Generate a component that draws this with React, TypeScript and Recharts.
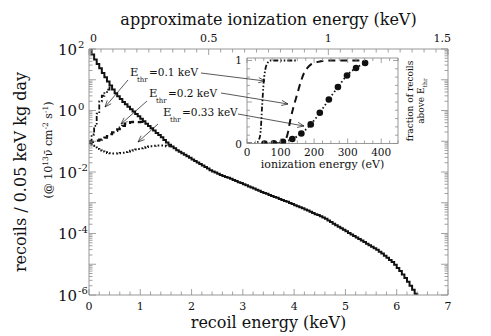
import React from 'react';
import { LineChart, Line, XAxis, YAxis } from 'recharts';

const SERIF = '"DejaVu Serif", serif';
const INK = '#111';
const FRAME = '#8c8c8c';

// recoil spectrum, 0.05 keV bins starting at 0 keV, log10(recoils / 0.05 keV kg day)
const BIN_KEV = 0.05;
const RATE_ALL_LOG10 = [
  2.05, 1.82, 1.66, 1.51, 1.37, 1.22, 1.08, 0.94, 0.81, 0.68,
  0.56, 0.46, 0.37, 0.28, 0.2, 0.12, 0.04, -0.03, -0.11, -0.19,
  -0.27, -0.35, -0.43, -0.5, -0.58, -0.65, -0.73, -0.8, -0.87, -0.96,
  -1.04, -1.11, -1.17, -1.23, -1.29, -1.34, -1.39, -1.44, -1.49, -1.54,
  -1.59, -1.64, -1.69, -1.74, -1.79, -1.84, -1.89, -1.94, -1.98, -2.02,
  -2.06, -2.1, -2.13, -2.16, -2.19, -2.22, -2.26, -2.29, -2.33, -2.36,
  -2.4, -2.43, -2.47, -2.5, -2.54, -2.58, -2.61, -2.65, -2.68, -2.71,
  -2.75, -2.78, -2.81, -2.84, -2.88, -2.91, -2.94, -2.97, -3.01, -3.04,
  -3.08, -3.11, -3.15, -3.18, -3.22, -3.25, -3.29, -3.33, -3.37, -3.4,
  -3.44, -3.48, -3.52, -3.58, -3.63, -3.68, -3.73, -3.78, -3.83, -3.88,
  -3.93, -3.98, -4.03, -4.08, -4.13, -4.18, -4.23, -4.28, -4.33, -4.38,
  -4.43, -4.48, -4.53, -4.59, -4.65, -4.72, -4.79, -4.86, -4.93, -5.02,
  -5.12, -5.22, -5.33, -5.45, -5.57, -5.7, -5.83, -5.96,
];
// same spectrum above each threshold, until it joins the full one
const RATE_THR_010_LOG10 = [-1.0, -0.78, -0.5, -0.1, 0.3, 0.48, 0.6, 0.68, 0.81];
const RATE_THR_020_LOG10 = [
  -1.05, -1.02, -1.0, -0.98, -0.95, -0.92, -0.88, -0.83, -0.77, -0.71,
  -0.66, -0.61, -0.56, -0.5, -0.44, -0.4, -0.38, -0.37, -0.37, -0.38,
  -0.37, -0.37, -0.43,
];
const RATE_THR_033_LOG10 = [
  -1.05, -1.15, -1.2, -1.25, -1.3, -1.33, -1.36, -1.38, -1.39, -1.4,
  -1.4, -1.39, -1.38, -1.37, -1.35, -1.33, -1.31, -1.29, -1.27, -1.25,
  -1.23, -1.21, -1.19, -1.17, -1.16, -1.15, -1.14, -1.14, -1.14, -1.15,
  -1.16, -1.16, -1.17,
];
const SPECTRUM_FLOOR = 1e-7; // below the axis: the histogram drops to zero

// inset: fraction of recoils above E_thr vs ionization energy (eV)
const ION_010_EV = [0, 20, 30, 35, 40, 45, 50, 55, 60, 65, 70, 90, 110, 130, 150];
const FRAC_010 = [0, 0, 0.01, 0.04, 0.12, 0.45, 0.75, 0.9, 0.96, 0.99, 1, 1, 1, 1, 1];
const ION_020_EV = [90, 100, 110, 120, 130, 140, 150, 160, 170, 180, 190, 200, 220, 240, 280, 350];
const FRAC_020 = [0, 0.005, 0.02, 0.1, 0.3, 0.46, 0.6, 0.74, 0.85, 0.91, 0.95, 0.97, 0.99, 1, 1, 1];
const ION_033_EV = [52, 80, 107, 135, 162, 190, 217, 244, 271, 298, 325, 352];
const FRAC_033 = [0, 0.003, 0.02, 0.055, 0.12, 0.23, 0.37, 0.53, 0.68, 0.82, 0.91, 0.97];

// axis ticks
const KEV_TICKS = Array.from({ length: 36 }, (_, i) => +(i * 0.2).toFixed(1));
const ION_KEV_TICKS = Array.from({ length: 31 }, (_, i) => +(i * 0.05).toFixed(2));
const LOG_TICKS: number[] = [];
for (let e = -6; e < 2; e++) for (let k = 1; k < 10; k++) LOG_TICKS.push(k * 10 ** e);
LOG_TICKS.push(100);
const INSET_EV_TICKS = Array.from({ length: 19 }, (_, i) => i * 25);
const INSET_FRAC_TICKS = Array.from({ length: 11 }, (_, i) => +(i * 0.1).toFixed(1));

const toBins = (logs: number[]) =>
  logs.map((v, i) => ({ x: +(i * BIN_KEV).toFixed(2), y: 10 ** v }));
const allData = [
  ...toBins(RATE_ALL_LOG10),
  { x: +(RATE_ALL_LOG10.length * BIN_KEV).toFixed(2), y: SPECTRUM_FLOOR },
];
const thr010Data = toBins(RATE_THR_010_LOG10);
const thr020Data = toBins(RATE_THR_020_LOG10);
const thr033Data = toBins(RATE_THR_033_LOG10);
const pairs = (xs: number[], ys: number[]) => xs.map((ev, i) => ({ ev, f: ys[i] }));
const inset010 = pairs(ION_010_EV, FRAC_010);
const inset020 = pairs(ION_020_EV, FRAC_020);
const inset033 = pairs(ION_033_EV, FRAC_033);

const near = (a: number, b: number) => Math.abs(a - b) < 1e-6;
const log10Of = (v: number) => Math.log10(v);
const isDecade = (v: number) => near(log10Of(v), Math.round(log10Of(v)));

const LeftLogTick = ({ x, y, payload }: any) => {
  const v = payload.value;
  const dec = isDecade(v);
  const e = Math.round(log10Of(v));
  return (
    <g>
      <line x1={x} y1={y} x2={x + (dec ? 7 : 3.5)} y2={y} stroke={FRAME} strokeWidth={0.8} />
      {dec && e % 2 === 0 && (
        <>
          <text x={x - 12} y={y + 5.5} textAnchor="end" fontSize={15} fontFamily={SERIF} fill={INK}>10</text>
          <text x={x - 11} y={y - 1} fontSize={10} fontFamily={SERIF} fill={INK}>{e}</text>
        </>
      )}
    </g>
  );
};

const RightLogTick = ({ x, y, payload }: any) => {
  const dec = isDecade(payload.value);
  return <line x1={x} y1={y} x2={x - (dec ? 7 : 3.5)} y2={y} stroke={FRAME} strokeWidth={0.8} />;
};

const BottomKevTick = ({ x, y, payload }: any) => {
  const v = payload.value;
  const major = near(v, Math.round(v));
  return (
    <g>
      <line x1={x} y1={y} x2={x} y2={y - (major ? 6 : 3.5)} stroke={FRAME} strokeWidth={0.8} />
      {major && (
        <text x={x} y={y + 15} textAnchor="middle" fontSize={11} fontFamily={SERIF} fill={INK}>{v}</text>
      )}
    </g>
  );
};

const TopIonTick = ({ x, y, payload }: any) => {
  const v = payload.value;
  const major = near(v * 2, Math.round(v * 2));
  // end labels sit just inside the frame
  const anchor = v === 0 ? 'start' : near(v, 1.5) ? 'end' : 'middle';
  const tx = v === 0 ? x + 1 : near(v, 1.5) ? x + 3 : x;
  return (
    <g>
      <line x1={x} y1={y} x2={x} y2={y + (major ? 6 : 3.5)} stroke={FRAME} strokeWidth={0.8} />
      {major && (
        <text x={tx} y={y - 7} textAnchor={anchor} fontSize={11} fontFamily={SERIF} fill={INK}>{v}</text>
      )}
    </g>
  );
};

const InsetBottomTick = ({ x, y, payload }: any) => {
  const v = payload.value;
  const major = v % 100 === 0;
  return (
    <g>
      <line x1={x} y1={y} x2={x} y2={y - (major ? 5 : 3)} stroke={FRAME} strokeWidth={0.8} />
      {major && (
        <text x={x} y={y + 12} textAnchor="middle" fontSize={10.5} fontFamily={SERIF} fill={INK}>{v}</text>
      )}
    </g>
  );
};

const InsetTopTick = ({ x, y, payload }: any) => (
  <line x1={x} y1={y} x2={x} y2={y + (payload.value % 100 === 0 ? 5 : 3)} stroke={FRAME} strokeWidth={0.8} />
);

const InsetLeftTick = ({ x, y, payload }: any) => {
  const v = payload.value;
  const major = v === 0 || v === 1;
  return (
    <g>
      <line x1={x} y1={y} x2={x + (major || near(v, 0.5) ? 5 : 3)} y2={y} stroke={FRAME} strokeWidth={0.8} />
      {major && (
        <text x={x - 5} y={y + 4} textAnchor="end" fontSize={10.5} fontFamily={SERIF} fill={INK}>{v}</text>
      )}
    </g>
  );
};

const InsetRightTick = ({ x, y, payload }: any) => (
  <line x1={x} y1={y} x2={x - (payload.value === 0 || payload.value === 1 ? 5 : 3)} y2={y} stroke={FRAME} strokeWidth={0.8} />
);

function Pointer({ from, to }: { from: [number, number]; to: [number, number] }) {
  const [x1, y1] = from;
  const [x2, y2] = to;
  const a = Math.atan2(y2 - y1, x2 - x1);
  const len = 7;
  const w = 0.38;
  const h1 = `${x2 - len * Math.cos(a - w)},${y2 - len * Math.sin(a - w)}`;
  const h2 = `${x2 - len * Math.cos(a + w)},${y2 - len * Math.sin(a + w)}`;
  return (
    <g stroke={INK} strokeWidth={0.7} fill="none">
      <line x1={x1} y1={y1} x2={x2} y2={y2} />
      <polyline points={`${h1} ${x2},${y2} ${h2}`} />
    </g>
  );
}

// label placement for the three thresholds (page pixels)
const THR_LABELS = [
  { text: '=0.1 keV', ex: 130, ey: 76, toMain: [[128, 80], [105, 107]], toInset: [[201, 73], [265, 81]] },
  { text: '=0.2 keV', ex: 149, ey: 97, toMain: [[147, 101], [121, 124]], toInset: [[221, 93], [288, 104]] },
  { text: '=0.33 keV', ex: 163, ey: 116, toMain: [[158, 124], [138, 142]], toInset: [[238, 114], [304, 126]] },
];

const axisCommon = {
  tickSize: 0,
  tickMargin: 0,
  tickLine: false,
  interval: 0 as const,
  allowDataOverflow: true,
  axisLine: { stroke: FRAME, strokeWidth: 0.9 },
};

export default function App() {
  return (
    <div style={{ position: 'absolute', left: 0, top: 0, width: 491, height: 336, background: '#fff' }}>
      <LineChart width={491} height={336} margin={{ top: 48, right: 42, bottom: 40, left: 88 }}>
        <XAxis xAxisId="kev" dataKey="x" type="number" domain={[0, 7]} ticks={KEV_TICKS} height={1}
          tick={(p: any) => <BottomKevTick {...p} />} {...axisCommon} />
        <XAxis xAxisId="ion" dataKey="x" orientation="top" type="number" domain={[0, 1.5]} ticks={ION_KEV_TICKS} height={1}
          tick={(p: any) => <TopIonTick {...p} />} {...axisCommon} />
        <YAxis yAxisId="rate" type="number" scale="log" domain={[1e-6, 100]} ticks={LOG_TICKS} width={1}
          tick={(p: any) => <LeftLogTick {...p} />} {...axisCommon} />
        <YAxis yAxisId="rate2" orientation="right" type="number" scale="log" domain={[1e-6, 100]} ticks={LOG_TICKS} width={1}
          tick={(p: any) => <RightLogTick {...p} />} {...axisCommon} />
        {/* invisible series so the mirrored top/right axes get drawn */}
        <Line xAxisId="ion" yAxisId="rate2" data={allData} dataKey="y" stroke="none" dot={false}
          activeDot={false} isAnimationActive={false} />
        <Line xAxisId="kev" yAxisId="rate" data={thr033Data} dataKey="y" type="stepAfter" stroke={INK}
          strokeWidth={2} strokeDasharray="1.6 2.2" dot={false} isAnimationActive={false} />
        <Line xAxisId="kev" yAxisId="rate" data={thr020Data} dataKey="y" type="stepAfter" stroke={INK}
          strokeWidth={2.2} strokeDasharray="6 4" dot={false} isAnimationActive={false} />
        <Line xAxisId="kev" yAxisId="rate" data={thr010Data} dataKey="y" type="stepAfter" stroke={INK}
          strokeWidth={1.8} strokeDasharray="5 2 1.5 2 1.5 2" dot={false} isAnimationActive={false} />
        <Line xAxisId="kev" yAxisId="rate" data={allData} dataKey="y" type="stepAfter" stroke={INK}
          strokeWidth={2} dot={false} isAnimationActive={false} />
      </LineChart>

      <div style={{ position: 'absolute', left: 200, top: 40 }}>
        <LineChart width={240} height={130} margin={{ top: 17, right: 41, bottom: 25.5, left: 46 }}>
          <XAxis xAxisId="ev" dataKey="ev" type="number" domain={[0, 450]} ticks={INSET_EV_TICKS} height={1}
            tick={(p: any) => <InsetBottomTick {...p} />} {...axisCommon} />
          <XAxis xAxisId="ev2" dataKey="ev" orientation="top" type="number" domain={[0, 450]} ticks={INSET_EV_TICKS} height={1}
            tick={(p: any) => <InsetTopTick {...p} />} {...axisCommon} />
          <YAxis yAxisId="f" type="number" domain={[0, 1.03]} ticks={INSET_FRAC_TICKS} width={1}
            tick={(p: any) => <InsetLeftTick {...p} />} {...axisCommon} />
          <YAxis yAxisId="f2" orientation="right" type="number" domain={[0, 1.03]} ticks={INSET_FRAC_TICKS} width={1}
            tick={(p: any) => <InsetRightTick {...p} />} {...axisCommon} />
          <Line xAxisId="ev2" yAxisId="f2" data={inset033} dataKey="f" stroke="none" dot={false}
            activeDot={false} isAnimationActive={false} />
          <Line xAxisId="ev" yAxisId="f" data={inset010} dataKey="f" type="monotone" stroke={INK}
            strokeWidth={1.8} strokeDasharray="5 2 1.5 2 1.5 2" dot={false} isAnimationActive={false} />
          <Line xAxisId="ev" yAxisId="f" data={inset020} dataKey="f" type="monotone" stroke={INK}
            strokeWidth={2} strokeDasharray="7 5" dot={false} isAnimationActive={false} />
          <Line xAxisId="ev" yAxisId="f" data={inset033} dataKey="f" type="monotone" stroke={INK}
            strokeWidth={1.8} strokeDasharray="1.5 2.5"
            dot={{ r: 3.3, fill: INK, stroke: 'none' }} isAnimationActive={false} />
        </LineChart>
      </div>

      <svg width={491} height={336} style={{ position: 'absolute', left: 0, top: 0, pointerEvents: 'none' }}
        fontFamily={SERIF} fill={INK}>
        <text x={268.5} y={25} textAnchor="middle" fontSize={16}>approximate ionization energy (keV)</text>
        <text x={268.5} y={328} textAnchor="middle" fontSize={16}>recoil energy (keV)</text>
        <text transform="translate(26,172) rotate(-90)" textAnchor="middle" fontSize={16}>
          recoils / 0.05 keV kg day
        </text>
        <text transform="translate(52,150) rotate(-90)" textAnchor="middle" fontSize={11}>
          (@ 10<tspan dy={-4} fontSize={7.5}>13</tspan><tspan dy={4}>ν̄ cm</tspan>
          <tspan dy={-4} fontSize={7.5}>-2</tspan><tspan dy={4}> s</tspan>
          <tspan dy={-4} fontSize={7.5}>-1</tspan><tspan dy={4}>)</tspan>
        </text>

        <text x={322.5} y={168} textAnchor="middle" fontSize={11}>ionization energy (eV)</text>
        <text transform="translate(413,101) rotate(-90)" textAnchor="middle" fontSize={9}>fraction of recoils</text>
        <text transform="translate(424,101) rotate(-90)" textAnchor="middle" fontSize={9}>
          above E<tspan dy={3} fontSize={6}>thr</tspan>
        </text>

        {THR_LABELS.map((l) => (
          <g key={l.text}>
            <text x={l.ex} y={l.ey} fontSize={11.5}>E</text>
            <text x={l.ex + 7} y={l.ey + 6} fontSize={7}>thr</text>
            <text x={l.ex + 19} y={l.ey} fontSize={10.5}>{l.text}</text>
            <Pointer from={l.toMain[0] as [number, number]} to={l.toMain[1] as [number, number]} />
            <Pointer from={l.toInset[0] as [number, number]} to={l.toInset[1] as [number, number]} />
          </g>
        ))}
      </svg>
    </div>
  );
}
